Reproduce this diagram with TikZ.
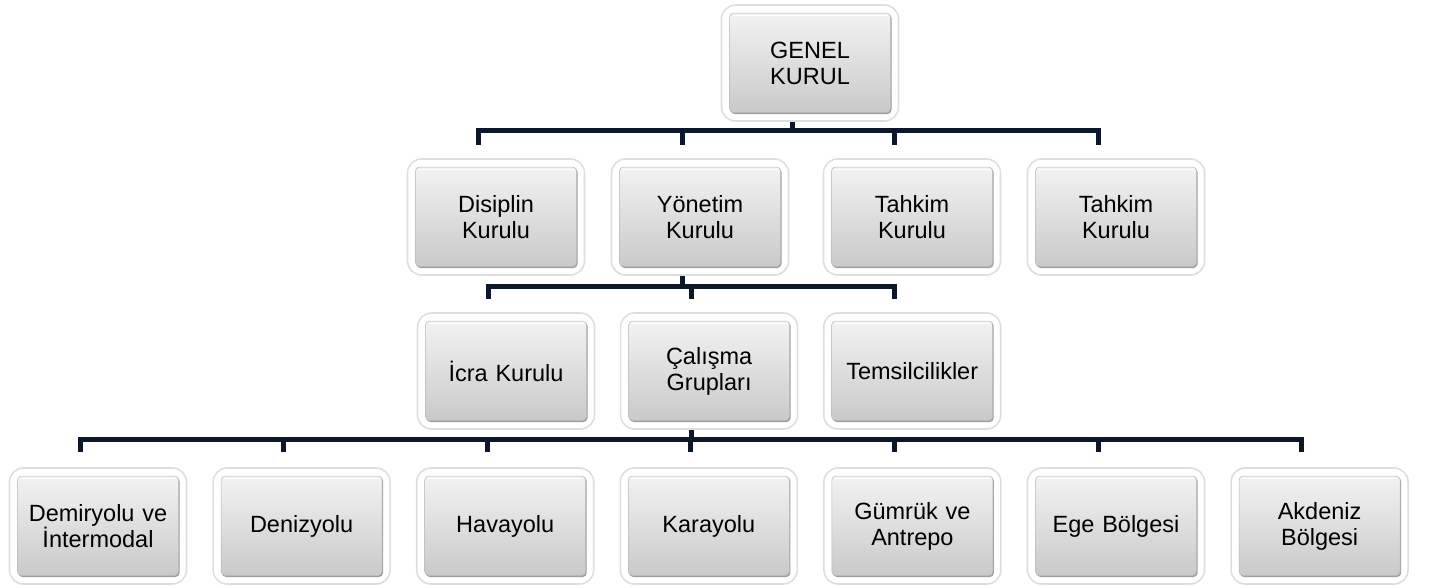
\documentclass[tikz,border=0pt]{standalone}
\usepackage{fontspec}
\setmainfont{Liberation Sans}
\usetikzlibrary{positioning,calc}
\definecolor{linknavy}{RGB}{13,23,43}
\tikzset{
  orgbox/.style={rectangle,rounded corners=14pt,fill=white,draw=black!13,line width=1.6pt,
    minimum width=177pt,minimum height=116pt,inner sep=0pt,text width=160pt,align=center,
    font=\fontsize{23.5}{26}\selectfont,
    path picture={
      \fill[black!38,rounded corners=4pt]
        ([shift={(9pt,7pt)}]path picture bounding box.south west) rectangle
        ([shift={(-7pt,-9pt)}]path picture bounding box.north east);
      \shade[top color=black!5,bottom color=black!21,draw=black!28,line width=0.5pt,rounded corners=4pt]
        ([shift={(8pt,8.5pt)}]path picture bounding box.south west) rectangle
        ([shift={(-8pt,-8pt)}]path picture bounding box.north east);
      \draw[white,line width=1pt]
        ([shift={(11pt,-10pt)}]path picture bounding box.north west) --
        ([shift={(-11pt,-10pt)}]path picture bounding box.north east);
    }},
  link/.style={draw=linknavy,line width=5pt,line join=miter}
}

\begin{document}
\begin{tikzpicture}[x=1pt,y=-1pt]
  \useasboundingbox (0,0) rectangle (1429,587);

  % top
  \node [orgbox] (genel) at (810,63) {GENEL\\KURUL};

  % second row
  \node [orgbox] (disiplin) at (496,217) {Disiplin\\Kurulu};
  \node [orgbox] (yonetim)  at (700,217) {Yönetim\\Kurulu};
  \node [orgbox] (tahkima)  at (912,217) {Tahkim\\Kurulu};
  \node [orgbox] (tahkimb)  at (1116,217) {Tahkim\\Kurulu};

  % third row
  \node [orgbox] (icra) at (506,371) {İcra Kurulu};
  \node [orgbox] (calisma) [right=24.5pt of icra] {Çalışma\\Grupları};
  \node [orgbox] (temsil)  [right=24.5pt of calisma] {Temsilcilikler};

  % working groups
  \node [orgbox] (demir) at (98,526) {Demiryolu ve\\İntermodal};
  \node [orgbox] (deniz)   [right=25pt of demir] {Denizyolu};
  \node [orgbox] (hava)    [right=25pt of deniz] {Havayolu};
  \node [orgbox] (kara)    [right=25pt of hava] {Karayolu};
  \node [orgbox] (gumruk)  [right=25pt of kara] {Gümrük ve\\Antrepo};
  \node [orgbox] (ege)     [right=25pt of gumruk] {Ege Bölgesi};
  \node [orgbox] (akdeniz) [right=25pt of ege] {Akdeniz\\Bölgesi};

  % links
  \path [link] ([xshift=-18pt]genel.south) -- ++(0,10);
  \path [link] ([shift={(-18pt,13pt)}]disiplin.north) -- ++(0,-15) -| ([shift={(-18pt,13pt)}]tahkimb.north);
  \path [link] ([shift={(-18pt,13pt)}]yonetim.north) -- ++(0,-15);
  \path [link] ([shift={(-18pt,13pt)}]tahkima.north) -- ++(0,-15);

  \path [link] ([xshift=-18pt]yonetim.south) -- ++(0,12);
  \path [link] ([shift={(-18pt,13pt)}]icra.north) -- ++(0,-13) -| ([shift={(-18pt,13pt)}]temsil.north);
  \path [link] ([shift={(-18pt,13pt)}]calisma.north) -- ++(0,-13);

  \path [link] ([xshift=-18pt]calisma.south) -- ++(0,11);
  \path [link] ([shift={(-18pt,15pt)}]demir.north) -- ++(0,-13) -| ([shift={(-18pt,15pt)}]akdeniz.north);
  \path [link] ([shift={(-18pt,15pt)}]deniz.north) -- ++(0,-13);
  \path [link] ([shift={(-18pt,15pt)}]hava.north) -- ++(0,-13);
  \path [link] ([shift={(-18pt,15pt)}]kara.north) -- ++(0,-13);
  \path [link] ([shift={(-18pt,15pt)}]gumruk.north) -- ++(0,-13);
  \path [link] ([shift={(-18pt,15pt)}]ege.north) -- ++(0,-13);
\end{tikzpicture}
\end{document}
